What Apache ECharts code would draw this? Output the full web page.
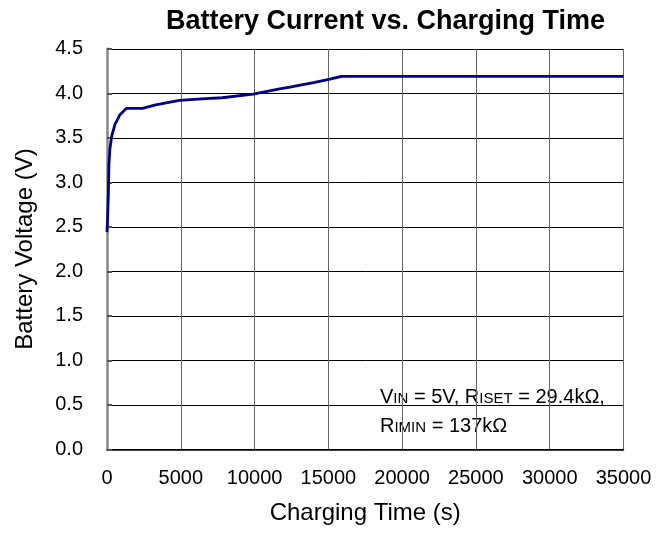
<!DOCTYPE html>
<html>
<head>
<meta charset="utf-8">
<script src="https://cdn.jsdelivr.net/npm/echarts@6/dist/echarts.min.js"></script>
<style>html,body{margin:0;padding:0;background:#fff}#c{width:670px;height:536px}</style>
</head>
<body>
<div id="c"></div>
<script>
const chartTitle = 'Battery Current vs. Charging Time';
const xAxisName = 'Charging Time (s)';
const yAxisName = 'Battery Voltage (V)';
const timeValues = [0, 40, 90, 130, 200, 320, 540, 880, 1300, 2400, 3300, 4900, 6700, 7800, 9900, 11700, 12400, 13000, 14000, 15100, 15900, 35000];
const voltageValues = [2.44, 2.6, 2.85, 3.2, 3.38, 3.52, 3.65, 3.76, 3.83, 3.83, 3.87, 3.92, 3.94, 3.95, 3.99, 4.05, 4.07, 4.09, 4.12, 4.16, 4.19, 4.19];
const xTicks = [0, 5000, 10000, 15000, 20000, 25000, 30000, 35000];
const yTicks = [0, 0.5, 1.0, 1.5, 2.0, 2.5, 3.0, 3.5, 4.0, 4.5];

const FONT = '"Liberation Sans", Arial, sans-serif';
const chart = echarts.init(document.getElementById('c'), null, {renderer: 'canvas'});
const data = timeValues.map((t, i) => [t, voltageValues[i]]);

chart.setOption({
  animation: false,
  backgroundColor: '#fff',
  title: {
    text: chartTitle,
    left: 161, top: 3,
    textStyle: {fontFamily: FONT, fontSize: 27, fontWeight: 'bold', color: '#000'}
  },
  grid: {left: 107, right: 46.5, top: 48.8, bottom: 86.7, containLabel: false},
  xAxis: {
    type: 'value', min: xTicks[0], max: xTicks[xTicks.length - 1], interval: 5000,
    name: xAxisName, nameLocation: 'middle', nameGap: 52,
    nameTextStyle: {fontFamily: FONT, fontSize: 24, color: '#000'},
    axisLine: {show: true, lineStyle: {color: '#000', width: 1.5}},
    axisTick: {show: false},
    axisLabel: {fontFamily: FONT, fontSize: 20, color: '#000', margin: 19,
      formatter: v => String(v)},
    splitLine: {show: true, lineStyle: {color: '#666', width: 1}}
  },
  yAxis: {
    type: 'value', min: yTicks[0], max: yTicks[yTicks.length - 1], interval: 0.5,
    name: yAxisName, nameLocation: 'middle', nameGap: 70,
    nameTextStyle: {fontFamily: FONT, fontSize: 24, color: '#000'},
    axisLine: {show: true, lineStyle: {color: '#888', width: 2.5}},
    axisTick: {show: true, inside: true, length: 5, lineStyle: {color: '#555', width: 2}},
    axisLabel: {fontFamily: FONT, fontSize: 20, color: '#000', margin: 24,
      formatter: v => v.toFixed(1)},
    splitLine: {show: true, lineStyle: {color: '#000', width: 1}}
  },
  series: [{
    type: 'line', data: data, showSymbol: false, smooth: false,
    lineStyle: {color: '#00008B', width: 2.8},
    z: 3
  }],
  graphic: [{
    type: 'group',
    left: 380, top: 383,
    z: 100,
    children: [
      {type: 'rect', shape: {x: 0, y: 0, width: 242, height: 64}, style: {fill: '#fff'}},
      {type: 'text', x: 0, y: 0, style: {
        text: 'V{s|IN} = 5V, R{s|ISET} = 29.4kΩ,\nR{s|IMIN} = 137kΩ',
        fontFamily: FONT, fontSize: 20, fill: '#000', lineHeight: 29,
        rich: {s: {fontFamily: FONT, fontSize: 15, fill: '#000', verticalAlign: 'bottom', lineHeight: 15, padding: [0, 0, 6, 0]}}
      }}
    ]
  }]
});
</script>
</body>
</html>
